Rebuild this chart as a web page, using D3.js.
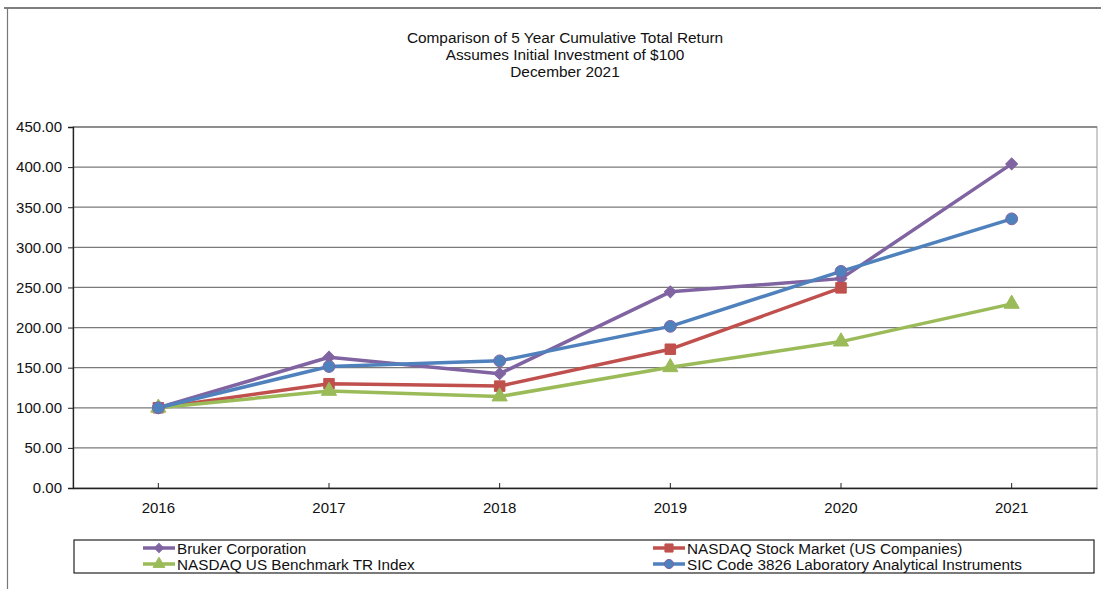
<!DOCTYPE html>
<html><head>
<meta charset="utf-8">
<title>5 Year Cumulative Total Return</title>
<script src="https://d3js.org/d3.v7.min.js"></script>
<style>
  body { margin: 0; background: #fff; }
  svg text { font-family: "Liberation Sans", Arial, Helvetica, sans-serif; fill: #111; }
</style>
</head>
<body>
<svg id="chart" width="1101" height="589"></svg>

<script>
// data
let years = ["2016", "2017", "2018", "2019", "2020", "2021"];
let bruker    = [100, 163, 142.5, 244.5, 261, 404];
let nasdaq    = [100, 130, 127, 173, 249.5, null];
let benchmark = [100, 121, 114, 150.5, 182.5, 229.5];
let sic       = [100, 151.5, 158.5, 201.5, 270, 335.5];
let yTicks = [0, 50, 100, 150, 200, 250, 300, 350, 400, 450];
let titleLines = ["Comparison of 5 Year Cumulative Total Return",
                  "Assumes Initial Investment of $100",
                  "December 2021"];

// diamond = square turned 45 degrees (Excel style)
let series = [
  { name: "Bruker Corporation", values: bruker, color: "#8064A2", marker: d3.symbolSquare, size: 70, rot: 45 },
  { name: "NASDAQ Stock Market (US Companies)", values: nasdaq, color: "#C0504D", marker: d3.symbolSquare, size: 110, rot: 0 },
  { name: "NASDAQ US Benchmark TR Index", values: benchmark, color: "#9BBB59", marker: d3.symbolTriangle, size: 100, rot: 0 },
  { name: "SIC Code 3826 Laboratory Analytical Instruments", values: sic, color: "#4F81BD", marker: d3.symbolCircle, size: 110, rot: 0 }
];

let svg = d3.select("#chart");

// outer frame (top and left edges only visible)
svg.append("line").attr("x1", 4).attr("x2", 1101).attr("y1", 8).attr("y2", 8)
   .style("stroke", "#555").style("stroke-width", 1.5);
svg.append("line").attr("x1", 7.5).attr("x2", 7.5).attr("y1", 8).attr("y2", 589)
   .style("stroke", "#777").style("stroke-width", 1.2);

// title
titleLines.forEach(function(t, i) {
  svg.append("text").attr("x", 565).attr("y", 43 + i * 17)
     .attr("text-anchor", "middle").style("font-size", "15.4px").text(t);
});

// scales
let pLeft = 73, pRight = 1097, pTop = 127, pBottom = 488;
let xScale = d3.scaleBand().domain(years).range([pLeft, pRight]).padding(0);
let yScale = d3.scaleLinear().domain([0, 450]).range([pBottom, pTop]);
let xPos = function(yr) { return xScale(yr) + xScale.bandwidth() / 2; };

// plot border (light)
svg.append("rect").attr("x", pLeft).attr("y", pTop)
   .attr("width", pRight - pLeft).attr("height", pBottom - pTop)
   .style("fill", "none").style("stroke", "#aaa").style("stroke-width", 1.2);

// gridlines
svg.append("g").selectAll("line").data(yTicks.filter(d => d > 0)).join("line")
   .attr("x1", pLeft).attr("x2", pRight)
   .attr("y1", d => yScale(d)).attr("y2", d => yScale(d))
   .style("stroke", "#7a7a7a").style("stroke-width", 1.3);

// y axis
let yAxis = d3.axisLeft(yScale).tickValues(yTicks).tickFormat(d3.format(".2f"))
              .tickSize(5).tickPadding(6);
let yG = svg.append("g").attr("transform", `translate(${pLeft},0)`).call(yAxis);
yG.select(".domain").style("stroke", "#222").style("stroke-width", 1.3);
yG.selectAll(".tick line").style("stroke", "#222");
yG.selectAll("text").style("font-size", "15px").style("fill", "#111")
   .style("font-family", "'Liberation Sans', Arial, sans-serif");

// x axis
let xAxis = d3.axisBottom(xScale).tickSize(0).tickPadding(14);
let xG = svg.append("g").attr("transform", `translate(0,${pBottom})`).call(xAxis);
xG.select(".domain").style("stroke", "#222").style("stroke-width", 1.3);
xG.selectAll("text").style("font-size", "15px").style("fill", "#111")
   .style("font-family", "'Liberation Sans', Arial, sans-serif");
// small category ticks crossing the axis
svg.append("g").selectAll("line").data(years).join("line")
   .attr("x1", d => xPos(d)).attr("x2", d => xPos(d))
   .attr("y1", pBottom - 5).attr("y2", pBottom + 1)
   .style("stroke", "#222");

// lines
let line = d3.line()
  .defined(d => d.v !== null)
  .x(d => xPos(d.year))
  .y(d => yScale(d.v));

series.forEach(function(s) {
  let pts = years.map((yr, i) => ({ year: yr, v: s.values[i] }));
  svg.append("path").datum(pts).attr("d", line)
     .style("fill", "none").style("stroke", s.color)
     .style("stroke-width", 3.5).style("stroke-linejoin", "round");
  svg.append("g").selectAll("path").data(pts.filter(d => d.v !== null)).join("path")
     .attr("d", d3.symbol().type(s.marker).size(s.size))
     .attr("transform", d => `translate(${xPos(d.year)},${yScale(d.v)}) rotate(${s.rot})`)
     .style("fill", s.color)
     .style("stroke", s.marker === d3.symbolCircle ? "#8064A2" : s.color)
     .style("stroke-width", 1);
});

// legend
let legend = svg.append("g");
legend.append("rect").attr("x", 74).attr("y", 540).attr("width", 1020).attr("height", 33)
      .style("fill", "none").style("stroke", "#222").style("stroke-width", 1.2);
series.forEach(function(s, i) {
  let lx = (i % 2 === 0) ? 143 : 653;
  let ly = (i < 2) ? 548 : 564;
  let item = legend.append("g").attr("transform", `translate(${lx},${ly})`);
  item.append("line").attr("x1", 0).attr("x2", 32).attr("y1", 0).attr("y2", 0)
      .style("stroke", s.color).style("stroke-width", 3.5);
  item.append("path").attr("d", d3.symbol().type(s.marker).size(s.size * 0.6))
      .attr("transform", `translate(16,0) rotate(${s.rot})`)
      .style("fill", s.color)
      .style("stroke", s.marker === d3.symbolCircle ? "#8064A2" : s.color);
  item.append("text").attr("x", 34).attr("y", 5.5).style("font-size", "15.3px").text(s.name);
});
</script>
</body>
</html>
